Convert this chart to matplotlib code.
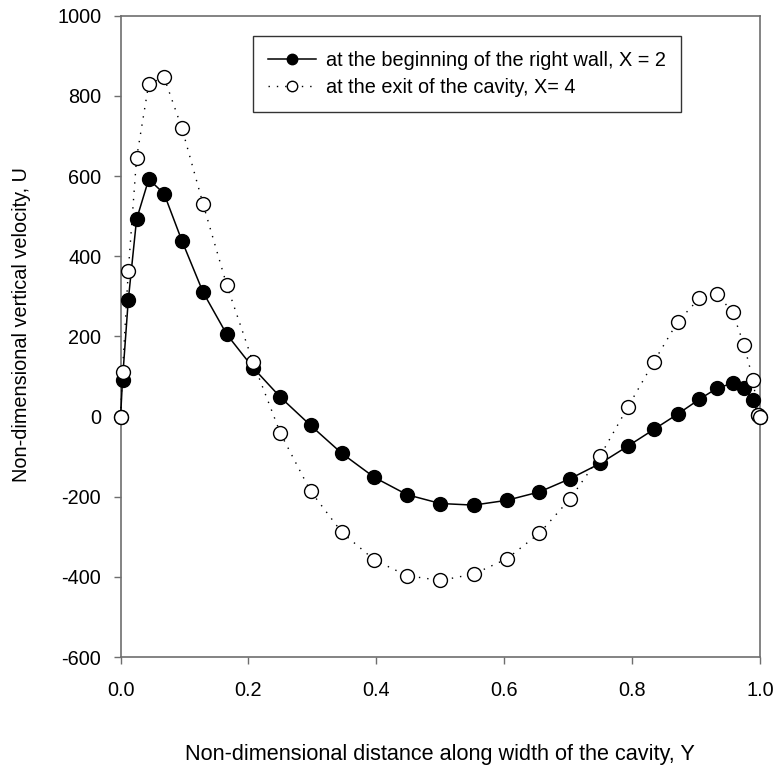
import matplotlib
matplotlib.use("Agg")
import matplotlib.pyplot as plt

plt.rcParams["font.family"] = ["Liberation Sans", "DejaVu Sans"]

# distance along the cavity width (Y) and vertical velocity at two stations
Y = [0.0, 0.003, 0.012, 0.025, 0.044, 0.068, 0.096, 0.129, 0.166, 0.207, 0.25,
     0.297, 0.346, 0.397, 0.448, 0.5, 0.552, 0.604, 0.655, 0.703, 0.75,
     0.793, 0.834, 0.871, 0.905, 0.933, 0.957, 0.975, 0.989, 0.997, 1.0]
U_WALL = [0, 92, 290, 492, 592, 556, 438, 310, 205, 122, 48,
          -22, -92, -152, -195, -217, -221, -209, -188, -155, -117,
          -74, -32, 6, 43, 71, 83, 72, 42, 3, 0]
U_EXIT = [0, 112, 362, 645, 830, 846, 719, 530, 328, 136, -42,
          -186, -289, -358, -397, -409, -393, -355, -291, -205, -98,
          23, 137, 236, 295, 305, 260, 178, 91, 3, 0]

LABEL_WALL = "at the beginning of the right wall, X = 2"
LABEL_EXIT = "at the exit of the cavity, X= 4"
X_TICKS = [0.0, 0.2, 0.4, 0.6, 0.8, 1.0]
Y_TICKS = [-600, -400, -200, 0, 200, 400, 600, 800, 1000]

SPINE_GRAY = "#6e6e6e"
FS = 14.3


def main() -> None:
    fig = plt.figure(figsize=(7.78, 7.69), dpi=100)
    ax = fig.add_axes([0.155, 0.1456, 0.822, 0.834])

    ax.plot(Y, U_WALL, color="black", linewidth=1.1, marker="o", markersize=10,
            markerfacecolor="black", markeredgecolor="black", markeredgewidth=1,
            label=LABEL_WALL, zorder=3, clip_on=False)
    ax.plot(Y, U_EXIT, color="black", linewidth=1.0, linestyle=(0, (1, 5)),
            marker="o", markersize=10, markerfacecolor="white",
            markeredgecolor="black", markeredgewidth=1,
            label=LABEL_EXIT, zorder=4, clip_on=False)

    ax.set_xlim(0, 1.0)
    ax.set_ylim(-600, 1000)
    ax.set_xticks(X_TICKS)
    ax.set_xticklabels([f"{t:.1f}" for t in X_TICKS])
    ax.set_yticks(Y_TICKS)
    ax.set_yticklabels([str(t) for t in Y_TICKS])

    ax.tick_params(axis="both", direction="out", length=5, width=1,
                   color=SPINE_GRAY, labelsize=FS, top=False, right=False)
    ax.tick_params(axis="x", pad=12)
    ax.tick_params(axis="y", pad=9)
    for spine in ax.spines.values():
        spine.set_color(SPINE_GRAY)
        spine.set_linewidth(1.2)

    ax.set_xlabel("Non-dimensional distance along width of the cavity, Y", fontsize=15.6)
    ax.set_ylabel("Non-dimensional vertical velocity, U", fontsize=FS)
    ax.xaxis.set_label_coords(0.5, -0.136)
    ax.yaxis.set_label_coords(-0.140, 0.518)

    leg = ax.legend(loc="upper left", bbox_to_anchor=(0.207, 0.968), borderaxespad=0,
                    fontsize=FS, frameon=True, fancybox=False, markerscale=0.75,
                    handlelength=2.4, handletextpad=0.55, borderpad=0.75,
                    labelspacing=0.4)
    frame = leg.get_frame()
    frame.set_edgecolor("#333333")
    frame.set_linewidth(1.0)
    frame.set_alpha(1)

    fig.savefig("out.png", dpi=100)
    plt.close(fig)


if __name__ == "__main__":
    main()
